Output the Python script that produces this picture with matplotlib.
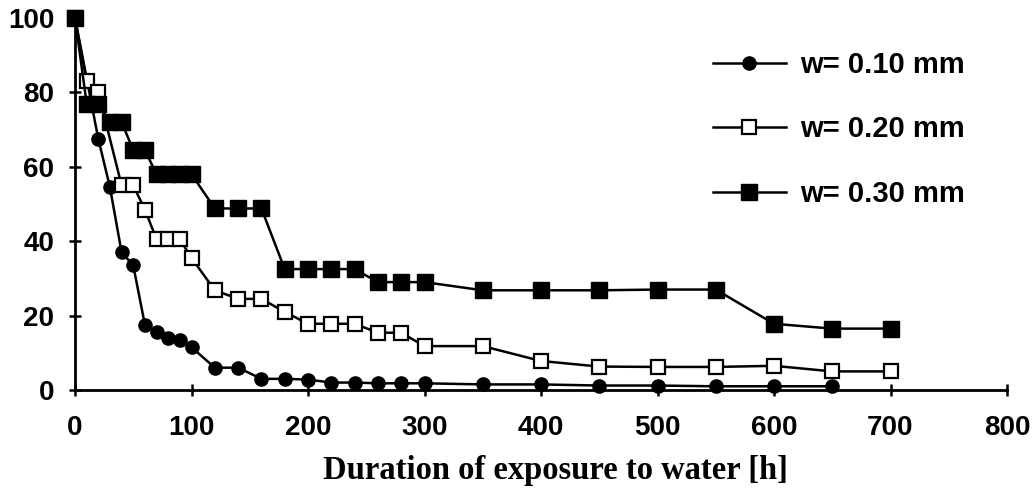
import numpy as np
import matplotlib
matplotlib.use('Agg')
import matplotlib.pyplot as plt

# hours of exposure and remaining values for each crack width
x_010 = [0, 20, 30, 40, 50, 60, 70, 80, 90, 100, 120, 140, 160, 180, 200,
         220, 240, 260, 280, 300, 350, 400, 450, 500, 550, 600, 650]
y_010 = [100, 67.5, 54.5, 37, 33.5, 17.5, 15.5, 14, 13.5, 11.5, 6, 6, 3, 3, 2.8,
         2, 2, 1.8, 1.8, 1.8, 1.5, 1.5, 1.2, 1.2, 1, 1, 1]

x_020 = [0, 10, 20, 40, 50, 60, 70, 80, 90, 100, 120, 140, 160, 180, 200, 220,
         240, 260, 280, 300, 350, 400, 450, 500, 550, 600, 650, 700]
y_020 = [100, 83, 80, 55, 55, 48.5, 40.5, 40.5, 40.5, 35.5, 26.8, 24.5, 24.5, 21,
         17.8, 17.8, 17.8, 15.4, 15.4, 11.8, 11.8, 7.8, 6.3, 6.2, 6.2, 6.5, 5, 5]

x_030 = [0, 10, 20, 30, 40, 50, 60, 70, 80, 90, 100, 120, 140, 160, 180, 200,
         220, 240, 260, 280, 300, 350, 400, 450, 500, 550, 600, 650, 700]
y_030 = [100, 77, 77, 72, 72, 64.5, 64.5, 58, 58, 58, 58, 48.8, 48.8, 48.8, 32.5,
         32.5, 32.5, 32.5, 29, 29, 29, 26.8, 26.8, 26.8, 27, 27, 17.8, 16.5, 16.5]

labels = ['w= 0.10 mm', 'w= 0.20 mm', 'w= 0.30 mm']
x_ticks = [0, 100, 200, 300, 400, 500, 600, 700, 800]
y_ticks = [0, 20, 40, 60, 80, 100]

SANS = 'Liberation Sans'
SERIF = 'Liberation Serif'

fig = plt.figure(figsize=(10.35, 4.96), dpi=100)
ax = fig.add_axes([75 / 1035, 106 / 496, 932 / 1035, 372 / 496])

lw = 1.8
ax.plot(x_010, y_010, '-o', color='black', lw=lw, ms=9.5, mfc='black',
        mec='black', label=labels[0], clip_on=False, zorder=3)
ax.plot(x_020, y_020, '-s', color='black', lw=lw, ms=10.5, mfc='white',
        mec='black', mew=1.6, label=labels[1], clip_on=False, zorder=4)
ax.plot(x_030, y_030, '-s', color='black', lw=lw, ms=11.5, mfc='black',
        mec='black', label=labels[2], clip_on=False, zorder=5)

ax.set_xlim(0, 800)
ax.set_ylim(0, 100)
ax.set_xticks(x_ticks)
ax.set_yticks(y_ticks)

for side in ['top', 'right']:
    ax.spines[side].set_visible(False)
for side in ['left', 'bottom']:
    ax.spines[side].set_linewidth(2.0)

ax.tick_params(axis='both', direction='inout', length=8, width=1.8)
ax.tick_params(axis='x', pad=14)
ax.tick_params(axis='y', pad=11)
for t in ax.get_xticklabels() + ax.get_yticklabels():
    t.set_fontfamily(SANS)
    t.set_fontweight('bold')
    t.set_fontsize(20)

leg = ax.legend(loc='upper left', bbox_to_anchor=(713 / 1035, 1 - 51 / 496),
                bbox_transform=fig.transFigure, frameon=False,
                borderpad=0, borderaxespad=0, handlelength=2.5,
                handletextpad=0.5, labelspacing=1.25,
                prop={'family': SANS, 'weight': 'bold', 'size': 21})

fig.text(555 / 1035, 1 - 470 / 496, 'Duration of exposure to water [h]',
         ha='center', va='center', fontsize=23.5, fontweight='bold',
         family=SERIF)

plt.savefig('out.png', dpi=100, facecolor='white')
